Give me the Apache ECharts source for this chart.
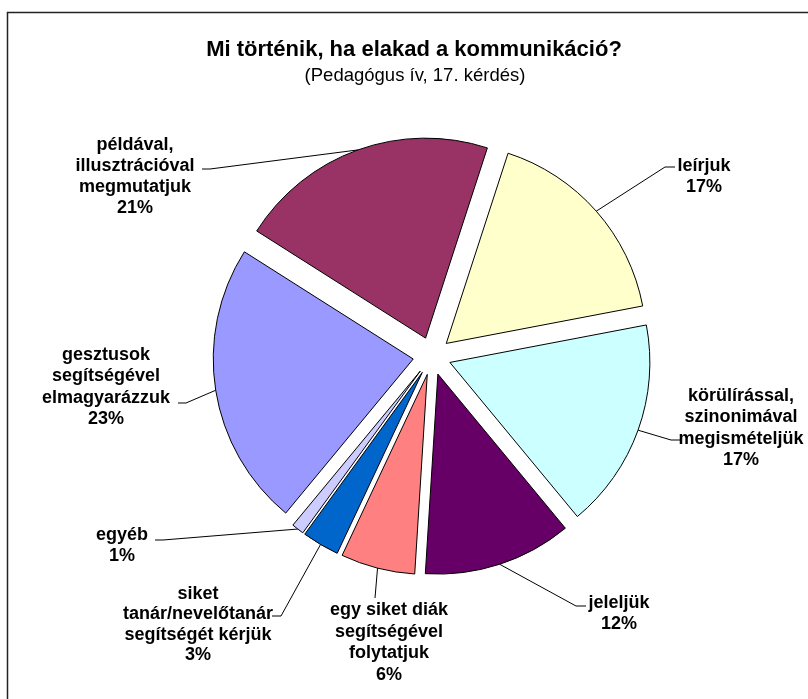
<!DOCTYPE html>
<html>
<head>
<meta charset="utf-8">
<script src="https://cdn.jsdelivr.net/npm/echarts@6/dist/echarts.min.js"></script>
<style>
html,body{margin:0;padding:0;background:#fff;}
#chart{width:808px;height:699px;}
</style>
</head>
<body>
<div id="chart"></div>
<script>
var titleText = 'Mi történik, ha elakad a kommunikáció?';
var subtitleText = '(Pedagógus ív, 17. kérdés)';
var categories = [
  'leírjuk',
  'körülírással,\nszinonimával\nmegismételjük',
  'jeleljük',
  'egy siket diák\nsegítségével\nfolytatjuk',
  'siket\ntanár/nevelőtanár\nsegítségét kérjük',
  'egyéb',
  'gesztusok\nsegítségével\nelmagyarázzuk',
  'példával,\nillusztrációval\nmegmutatjuk'
];
var values = [17, 17, 12, 6, 3, 1, 23, 21];
var colors = ['#FFFFCC', '#CCFFFF', '#660066', '#FF8080', '#0066CC', '#CCCCFF', '#9999FF', '#993366'];

// ---- layout (not data) ----
var CX = 432, CY = 356, R = 200, OFFSET = 19, START_DEG = 18; // clockwise from 12 o'clock
var FONT = '"Liberation Sans", Arial, sans-serif';
// label block: centre x, centre y of first line, line height, leader points on label side
var labelLayout = [
  { x: 704, y: 166, lh: 21,   pts: [[675, 167], [665, 167]] },
  { x: 741, y: 396, lh: 21.5, pts: [[680, 440], [671, 440]] },
  { x: 619, y: 603, lh: 21,   pts: [[586, 606], [576, 606]] },
  { x: 389, y: 610, lh: 21.7, pts: [[375, 598]] },
  { x: 198, y: 594, lh: 20.3, pts: [[272, 616], [281, 616]] },
  { x: 122, y: 535, lh: 21,   pts: [[155, 540], [163, 540]] },
  { x: 106, y: 355, lh: 21.3, pts: [[178, 403], [186, 403]] },
  { x: 135, y: 145, lh: 21,   pts: [[202, 169], [210, 169]] }
];

var chart = echarts.init(document.getElementById('chart'), null, {renderer: 'canvas'});
var data = categories.map(function (c, i) {
  return { name: c, value: values[i], selected: true, itemStyle: { color: colors[i] } };
});

// leader lines start on the outer arc of each (exploded) slice at its bisector
var total = values.reduce(function (a, b) { return a + b; }, 0);
var graphics = [{
  type: 'rect',
  shape: { x: 7.5, y: 12.5, width: 900, height: 900 },
  style: { fill: 'none', stroke: '#222', lineWidth: 1.5 },
  silent: true, z: 0
}, {
  type: 'text', x: 414, y: 50, z: 10,
  style: { text: titleText, font: 'bold 22px ' + FONT, fill: '#000', textAlign: 'center', textVerticalAlign: 'middle' }
}, {
  type: 'text', x: 415, y: 76, z: 10,
  style: { text: subtitleText, font: '18.5px ' + FONT, fill: '#000', textAlign: 'center', textVerticalAlign: 'middle' }
}];
var acc = 0;
values.forEach(function (v, i) {
  var mid = (START_DEG + 360 * (acc + v / 2) / total) * Math.PI / 180;
  acc += v;
  var ax = CX + (R + OFFSET) * Math.sin(mid);
  var ay = CY - (R + OFFSET) * Math.cos(mid);
  var L = labelLayout[i];
  var pts = L.pts.slice();
  pts.push([ax, ay]);
  graphics.push({
    type: 'polyline', z: 10, silent: true,
    shape: { points: pts },
    style: { stroke: '#000', lineWidth: 1, fill: null }
  });
  graphics.push({
    type: 'text', x: L.x, y: L.y - L.lh / 2, z: 10,
    style: {
      text: categories[i] + '\n' + v + '%',
      font: 'bold 18px ' + FONT,
      lineHeight: L.lh,
      fill: '#000', textAlign: 'center', textVerticalAlign: 'top'
    }
  });
});

chart.setOption({
  animation: false,
  backgroundColor: '#ffffff',
  graphic: graphics,
  series: [{
    type: 'pie',
    center: [CX, CY],
    radius: R,
    startAngle: 90 - START_DEG,
    clockwise: true,
    selectedMode: 'multiple',
    selectedOffset: OFFSET,
    avoidLabelOverlap: false,
    emphasis: { disabled: true },
    itemStyle: { borderColor: '#000', borderWidth: 1 },
    label: { show: false },
    labelLine: { show: false },
    data: data
  }]
});
</script>
</body>
</html>
